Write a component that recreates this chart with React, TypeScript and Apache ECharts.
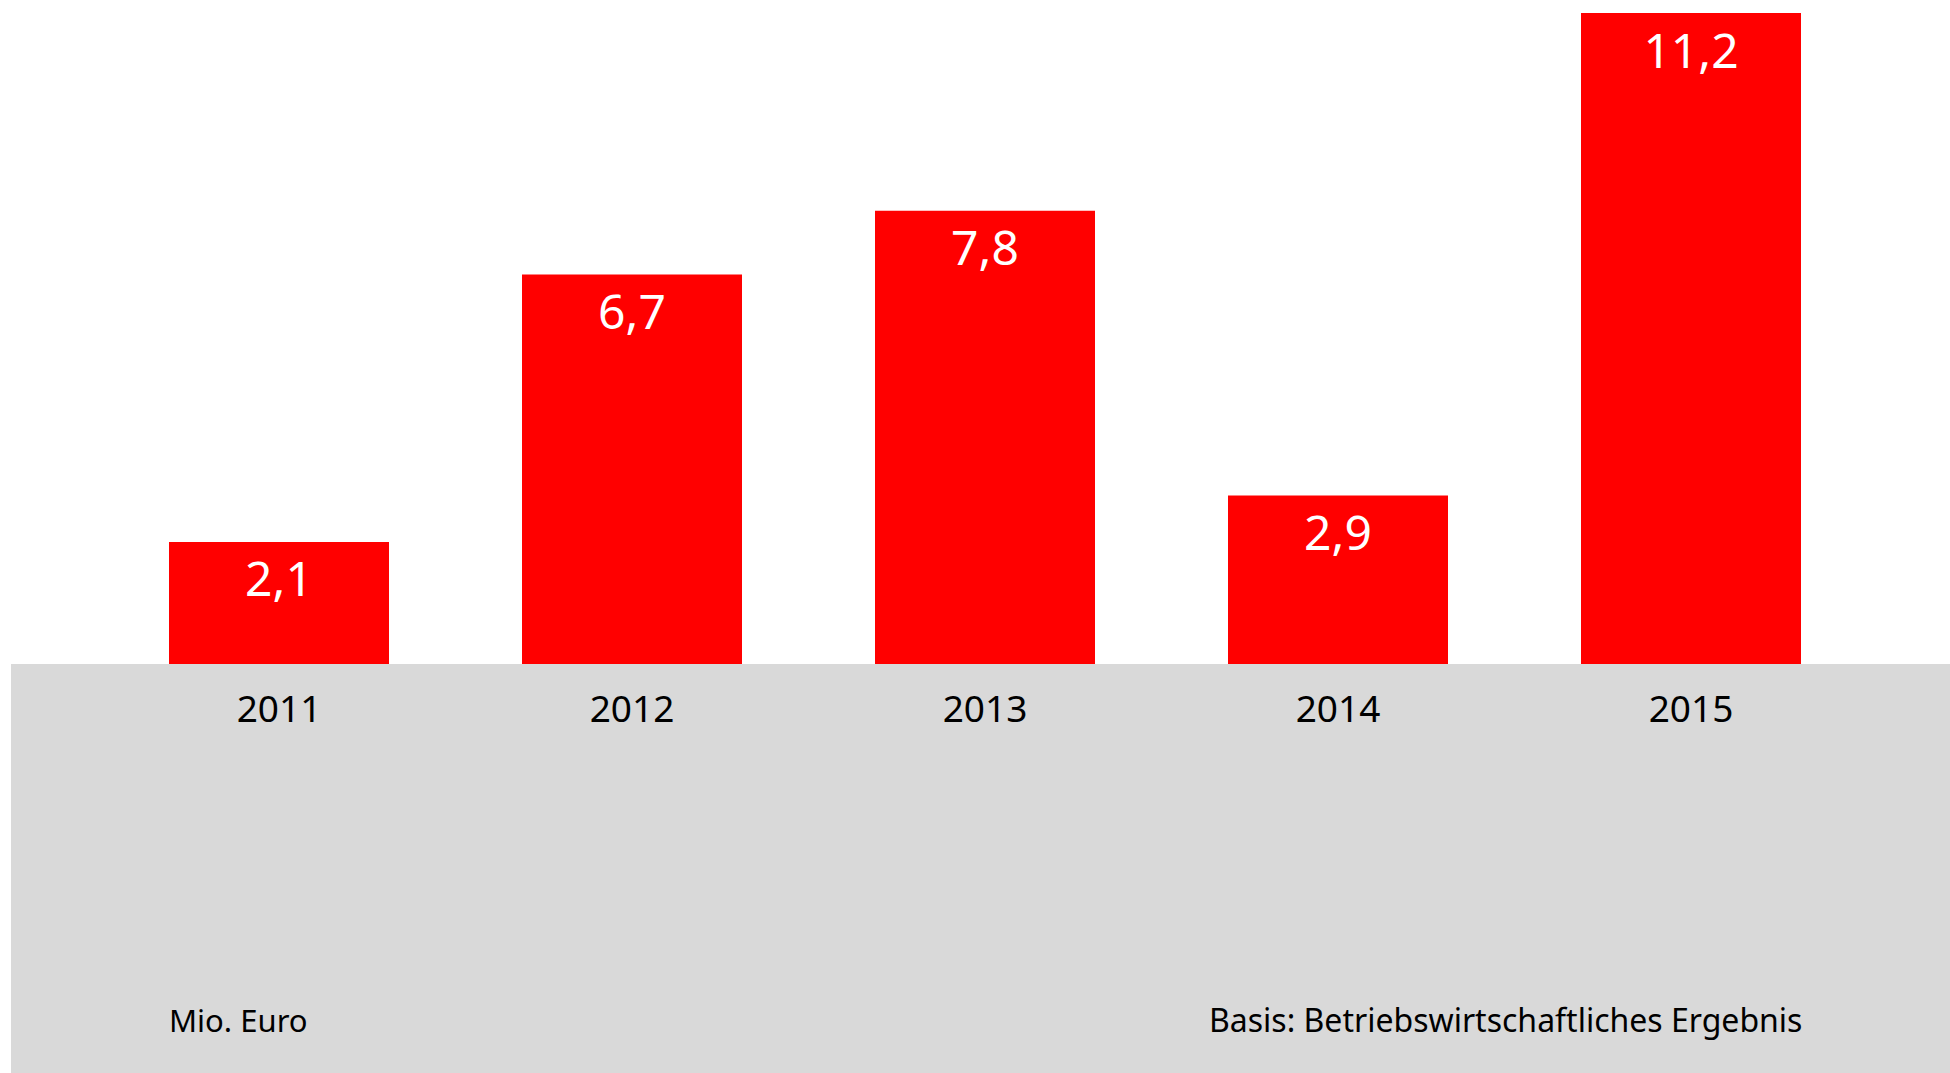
import React, { useEffect, useRef } from "react";
import * as echarts from "echarts";

const categories = ["2011", "2012", "2013", "2014", "2015"];
const values = [2.1, 6.7, 7.8, 2.9, 11.2];
const unitLabel = "Mio. Euro";
const basisLabel = "Basis: Betriebswirtschaftliches Ergebnis";

export default function App() {
  const ref = useRef<HTMLDivElement>(null);
  useEffect(() => {
    if (!ref.current) return;
    const chart = echarts.init(ref.current, null, { renderer: "svg" });
    chart.setOption({
      animation: false,
      backgroundColor: "#ffffff",
      grid: { left: 102.5, right: 82.5, top: 13, bottom: 409, containLabel: false },
      xAxis: {
        type: "category",
        data: categories,
        axisLine: { show: false },
        axisTick: { show: false },
        axisLabel: {
          color: "#000000",
          fontSize: 37,
          fontFamily: "Noto Sans",
          margin: 25,
        },
      },
      yAxis: {
        type: "value",
        min: 0,
        max: 11.2,
        show: false,
        splitLine: { show: false },
      },
      graphic: [
        {
          type: "rect",
          z: -10,
          silent: true,
          shape: { x: 11, y: 664, width: 1939, height: 409 },
          style: { fill: "#d9d9d9" },
        },
        {
          type: "text",
          z: 10,
          x: 169,
          y: 1035,
          style: {
            text: unitLabel,
            fill: "#000000",
            font: "31px 'Noto Sans'",
            verticalAlign: "bottom",
          },
        },
        {
          type: "text",
          z: 10,
          x: 1209,
          y: 1035,
          style: {
            text: basisLabel,
            fill: "#000000",
            font: "32px 'Noto Sans'",
            verticalAlign: "bottom",
          },
        },
      ],
      series: [
        {
          type: "bar",
          data: values,
          barWidth: 220,
          itemStyle: { color: "#ff0000" },
          label: {
            show: true,
            position: "insideTop",
            distance: 12,
            color: "#ffffff",
            fontSize: 48,
            fontFamily: "Noto Sans",
            formatter: (p: any) => String(p.value).replace(".", ","),
          },
        },
      ],
    });
    return () => chart.dispose();
  }, []);
  return (
    <div
      ref={ref}
      style={{ position: "fixed", left: 0, top: 0, width: 1950, height: 1073 }}
    />
  );
}
